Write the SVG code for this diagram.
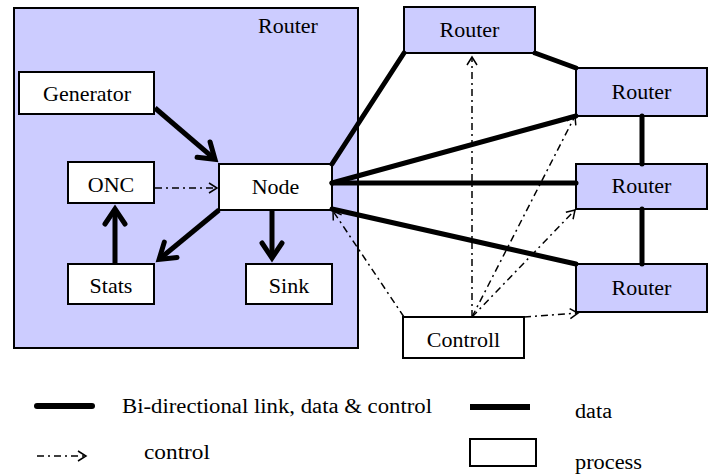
<svg xmlns="http://www.w3.org/2000/svg" width="713" height="475" viewBox="0 0 713 475" font-family="'Liberation Serif', 'Times New Roman', 'DejaVu Serif', serif">
<style>
  .box{fill:#fff;stroke:#000;stroke-width:2}
  .rt{fill:#ccccff;stroke:#000;stroke-width:2}
  .t{font-family:'Liberation Serif','Times New Roman','DejaVu Serif',serif;font-size:22px;fill:#000}
  .lg{font-size:20px}
  .c{text-anchor:middle}
  .thick{stroke:#000;stroke-width:5;fill:none}
  .bi{stroke:#000;stroke-width:5;fill:none;stroke-linecap:round}
  .ctl{stroke:#000;stroke-width:1.5;fill:none;stroke-dasharray:7 4 2 4}
</style>
<defs>
  <marker id="ah" markerUnits="userSpaceOnUse" viewBox="-20 -14 28 28" markerWidth="28" markerHeight="28" refX="-3" refY="0" orient="auto">
    <path d="M-15,-10 L0,0 L-15,10" fill="none" stroke="#000" stroke-width="5" stroke-linecap="round"/>
  </marker>
  <marker id="ac" markerUnits="userSpaceOnUse" viewBox="-12 -8 16 16" markerWidth="16" markerHeight="16" refX="0" refY="0" orient="auto">
    <path d="M-8,-5 L0,0 L-8,5" fill="none" stroke="#000" stroke-width="1.5"/>
  </marker>
</defs>
<rect width="713" height="475" fill="#fff"/>

<g id="router-main">
  <rect class="rt" x="14" y="8" width="344" height="340"/>
  <text class="t" x="258" y="33">Router</text>
</g>
<g id="generator"><rect class="box" x="19" y="72" width="135" height="42"/><text class="t c" x="87" y="101">Generator</text></g>
<g id="onc"><rect class="box" x="68" y="162" width="86" height="41"/><text class="t c" x="111" y="192">ONC</text></g>
<g id="node"><rect class="box" x="219" y="164" width="113" height="46"/><text class="t c" x="275.5" y="194">Node</text></g>
<g id="stats"><rect class="box" x="68" y="264" width="86" height="40"/><text class="t c" x="111" y="293">Stats</text></g>
<g id="sink"><rect class="box" x="246" y="264" width="86" height="40"/><text class="t c" x="289" y="293">Sink</text></g>

<g id="router-top"><rect class="rt" x="404" y="7" width="131" height="46"/><text class="t c" x="469.5" y="37">Router</text></g>
<g id="router-2"><rect class="rt" x="576" y="68" width="131" height="48"/><text class="t c" x="641.5" y="99">Router</text></g>
<g id="router-3"><rect class="rt" x="576" y="164" width="131" height="45"/><text class="t c" x="641.5" y="193">Router</text></g>
<g id="router-4"><rect class="rt" x="576" y="264" width="131" height="48"/><text class="t c" x="641.5" y="295">Router</text></g>
<g id="controll"><rect class="box" x="403" y="317" width="121" height="41"/><text class="t c" x="463.5" y="347">Controll</text></g>

<g id="connectors">
  <line class="thick" x1="155" y1="108" x2="212.7" y2="157.4" marker-end="url(#ah)"/>
  <line class="thick" x1="219" y1="210" x2="161.4" y2="257.5" marker-end="url(#ah)"/>
  <line class="thick" x1="272" y1="210" x2="272" y2="255" marker-end="url(#ah)"/>
  <line class="thick" x1="115" y1="264" x2="115" y2="212" marker-end="url(#ah)"/>

  <line class="bi" x1="332" y1="164" x2="404" y2="53"/>
  <line class="bi" x1="535" y1="53" x2="576" y2="68"/>
  <line class="bi" x1="332" y1="183" x2="576" y2="116"/>
  <line class="bi" x1="332" y1="183" x2="576" y2="183"/>
  <line class="bi" x1="332" y1="209" x2="576" y2="264"/>
  <line class="bi" x1="642" y1="116" x2="642" y2="164"/>
  <line class="bi" x1="642" y1="209" x2="642" y2="264"/>

  <line class="ctl" x1="155" y1="188" x2="217" y2="188" marker-end="url(#ac)"/>
  <line class="ctl" x1="472" y1="317" x2="472" y2="57" marker-end="url(#ac)"/>
  <line class="ctl" x1="472" y1="317" x2="575" y2="116" marker-end="url(#ac)"/>
  <line class="ctl" x1="472" y1="317" x2="575" y2="210" marker-end="url(#ac)"/>
  <line class="ctl" x1="524" y1="317" x2="578" y2="313" marker-end="url(#ac)"/>
  <line class="ctl" x1="404" y1="317" x2="333" y2="211" marker-end="url(#ac)"/>
</g>

<g id="legend">
  <line x1="37" y1="406" x2="92" y2="406" stroke="#000" stroke-width="6" stroke-linecap="round"/>
  <text class="t lg" x="122" y="413" textLength="310" lengthAdjust="spacingAndGlyphs">Bi-directional link, data &amp; control</text>
  <line x1="470" y1="407" x2="530" y2="407" stroke="#000" stroke-width="6"/>
  <text class="t lg" x="575" y="418" textLength="37" lengthAdjust="spacingAndGlyphs">data</text>
  <line class="ctl" x1="37" y1="456" x2="86" y2="456" marker-end="url(#ac)"/>
  <text class="t lg" x="144" y="459" textLength="66" lengthAdjust="spacingAndGlyphs">control</text>
  <rect class="box" x="470" y="439" width="66" height="27"/>
  <text class="t lg" x="575" y="469" textLength="67" lengthAdjust="spacingAndGlyphs">process</text>
</g>
</svg>
